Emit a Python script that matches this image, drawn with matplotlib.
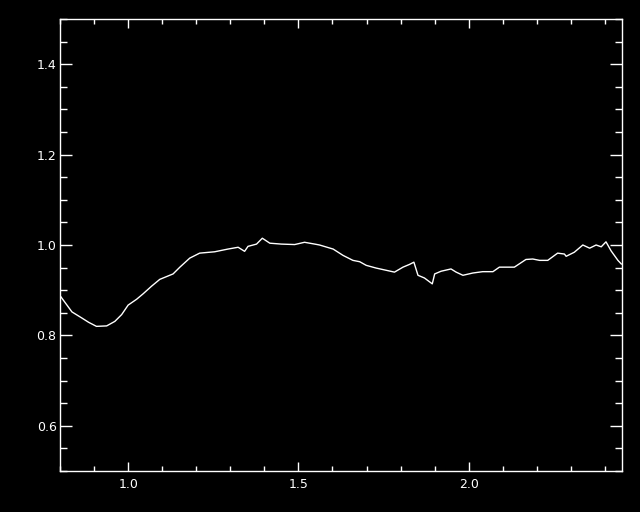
import matplotlib
matplotlib.use("Agg")
import matplotlib.pyplot as plt
from matplotlib.ticker import MultipleLocator, FormatStrFormatter

wavelength = [0.803, 0.835, 0.863, 0.884, 0.907, 0.937, 0.961, 0.981, 1.000, 1.025,
              1.044, 1.069, 1.093, 1.132, 1.152, 1.181, 1.210, 1.254, 1.293, 1.323,
              1.342, 1.352, 1.377, 1.394, 1.416, 1.450, 1.489, 1.518, 1.548, 1.562,
              1.602, 1.631, 1.660, 1.680, 1.699, 1.728, 1.758, 1.782, 1.807, 1.826,
              1.839, 1.851, 1.870, 1.893, 1.900, 1.919, 1.948, 1.963, 1.983, 2.012,
              2.041, 2.071, 2.090, 2.134, 2.168, 2.188, 2.208, 2.232, 2.261, 2.281,
              2.286, 2.310, 2.335, 2.355, 2.374, 2.389, 2.403, 2.418, 2.438, 2.448]
reflectance = [0.885, 0.852, 0.839, 0.829, 0.820, 0.821, 0.831, 0.846, 0.867, 0.880,
               0.892, 0.909, 0.924, 0.936, 0.951, 0.971, 0.982, 0.985, 0.991, 0.995,
               0.986, 0.997, 1.002, 1.015, 1.004, 1.002, 1.001, 1.006, 1.002, 1.000,
               0.991, 0.977, 0.966, 0.963, 0.955, 0.949, 0.944, 0.940, 0.951, 0.957,
               0.962, 0.933, 0.927, 0.914, 0.936, 0.942, 0.947, 0.940, 0.933, 0.938,
               0.941, 0.941, 0.951, 0.951, 0.968, 0.969, 0.966, 0.966, 0.982, 0.980,
               0.975, 0.984, 1.000, 0.993, 1.000, 0.996, 1.007, 0.987, 0.966, 0.958]

fig = plt.figure(figsize=(6.4, 5.12), dpi=100, facecolor="black")
ax = fig.add_axes([60/640, 41/512, 562/640, 452/512], facecolor="black")
ax.plot(wavelength, reflectance, color="white", lw=1.0)
ax.set_xlim(0.8, 2.45)
ax.set_ylim(0.5, 1.5)
ax.xaxis.set_major_locator(MultipleLocator(0.5))
ax.xaxis.set_minor_locator(MultipleLocator(0.1))
ax.yaxis.set_major_locator(MultipleLocator(0.2))
ax.yaxis.set_minor_locator(MultipleLocator(0.05))
ax.xaxis.set_major_formatter(FormatStrFormatter("%.1f"))
ax.yaxis.set_major_formatter(FormatStrFormatter("%.1f"))
for s in ax.spines.values():
    s.set_color("white")
    s.set_linewidth(1.0)
ax.tick_params(axis="x", which="major", direction="in", length=6.5, width=1.0,
               colors="white", top=True, bottom=True, labelsize=9, pad=5)
ax.tick_params(axis="x", which="minor", direction="in", length=3.6, width=1.0,
               colors="white", top=True, bottom=True)
ax.tick_params(axis="y", which="major", direction="in", length=8.5, width=1.0,
               colors="white", left=True, right=True, labelsize=9, pad=2.5)
ax.tick_params(axis="y", which="minor", direction="in", length=5, width=1.0,
               colors="white", left=True, right=True)
fig.savefig("out.png", dpi=100, facecolor="black")
